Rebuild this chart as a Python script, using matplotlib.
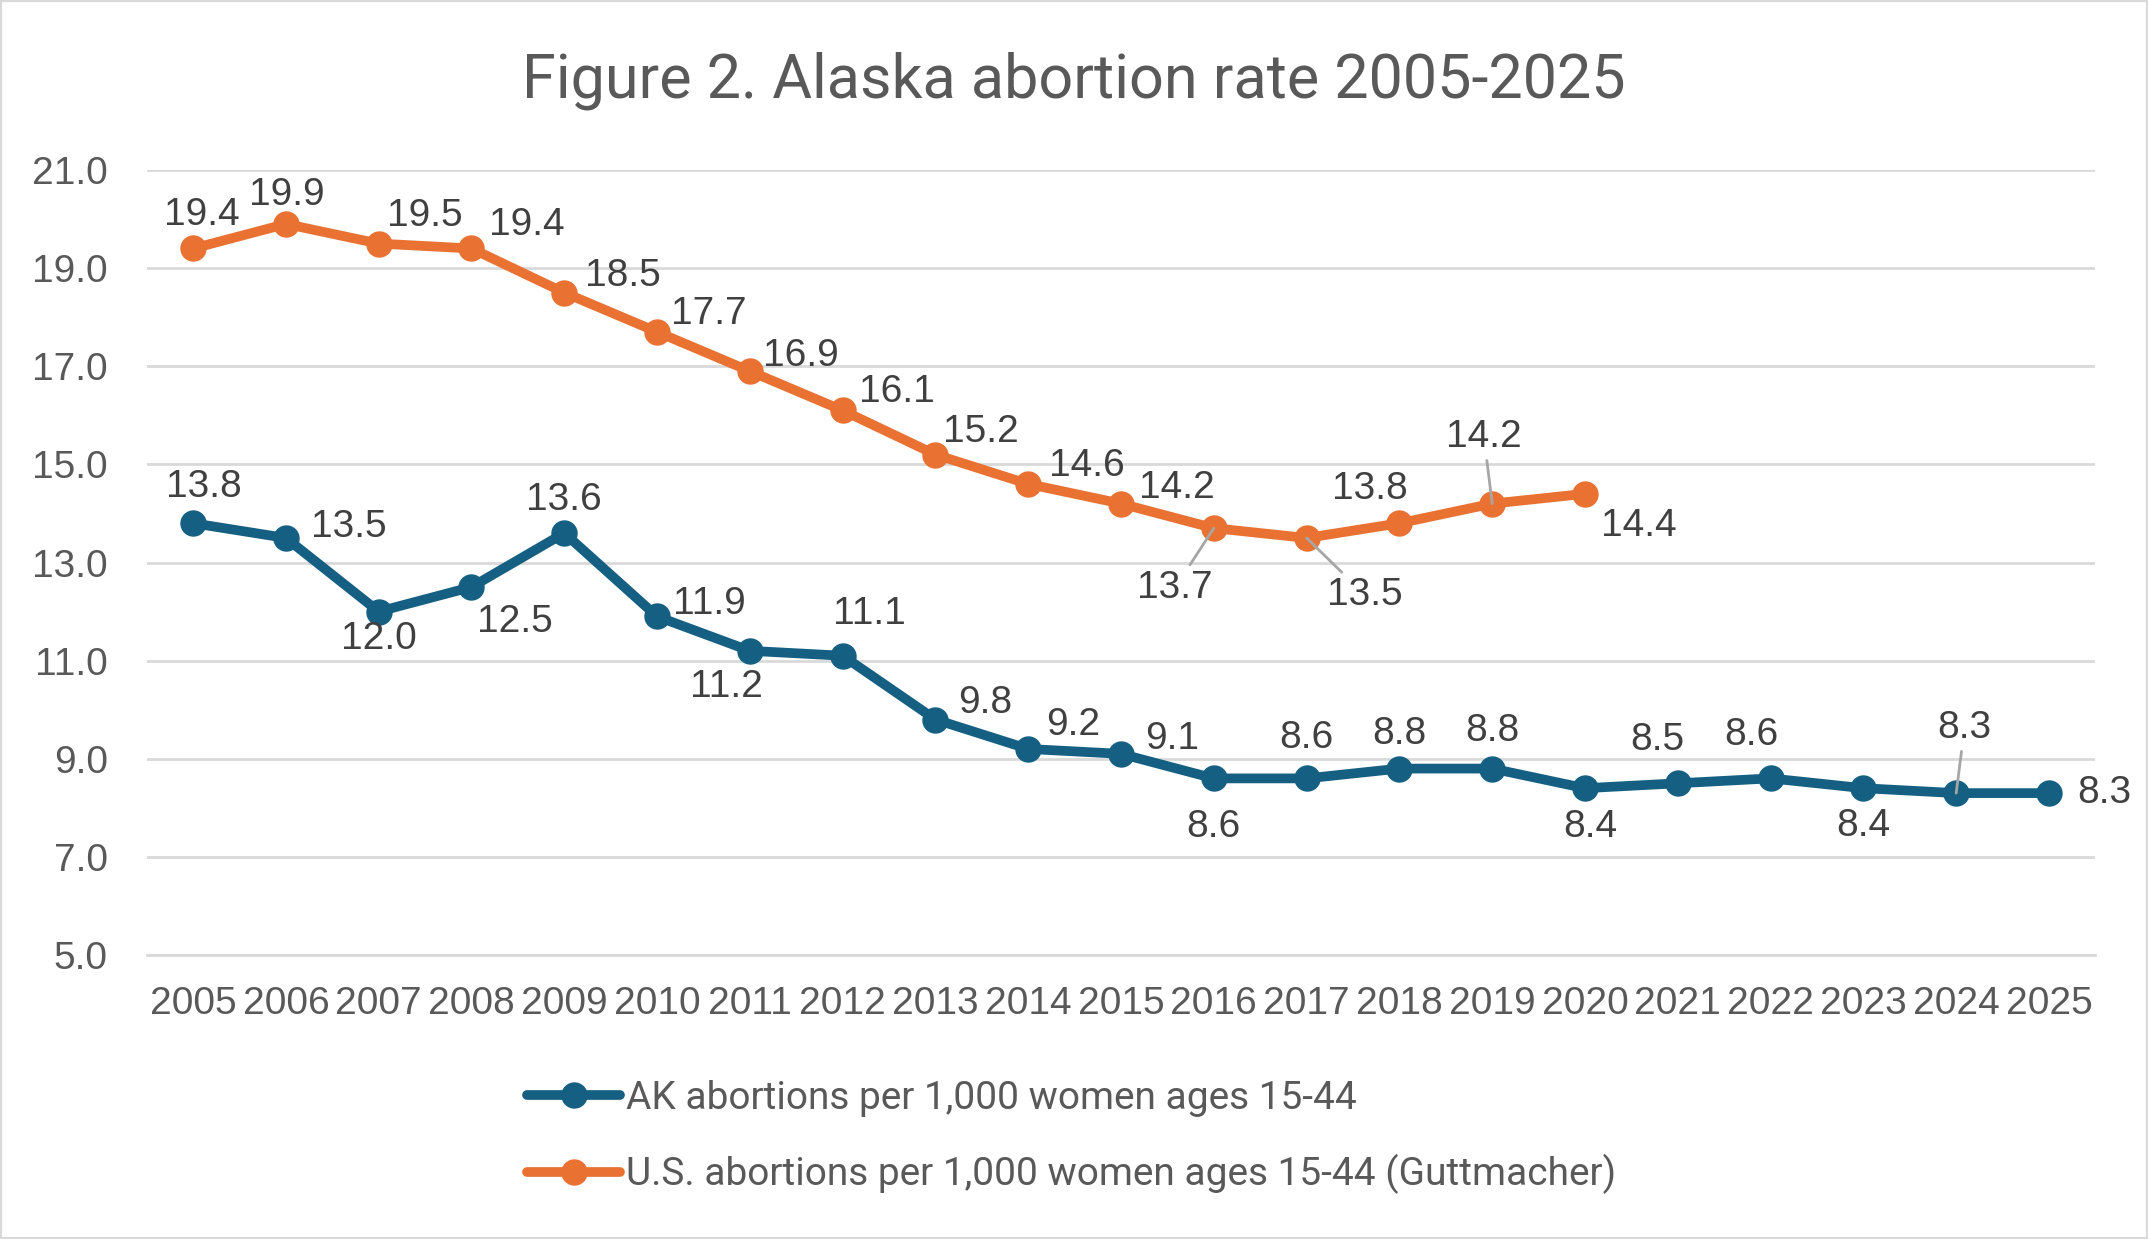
import matplotlib
matplotlib.use("Agg")
import matplotlib.pyplot as plt
from matplotlib.patches import Rectangle

# chart data
years = list(range(2005, 2026))
ak_rate = [13.8, 13.5, 12.0, 12.5, 13.6, 11.9, 11.2, 11.1, 9.8, 9.2, 9.1,
           8.6, 8.6, 8.8, 8.8, 8.4, 8.5, 8.6, 8.4, 8.3, 8.3]
us_years = list(range(2005, 2021))
us_rate = [19.4, 19.9, 19.5, 19.4, 18.5, 17.7, 16.9, 16.1, 15.2, 14.6, 14.2,
           13.7, 13.5, 13.8, 14.2, 14.4]
y_ticks = [5.0, 7.0, 9.0, 11.0, 13.0, 15.0, 17.0, 19.0, 21.0]
ak_label = "AK abortions per 1,000 women ages 15-44"
us_label = "U.S. abortions per 1,000 women ages 15-44 (Guttmacher)"

# label offsets (points) and whether a leader line is drawn
ak_offsets = [(8, 26), (45, 8), (0, -20), (31, -25), (0, 24), (38, 9), (-17, -26),
              (19, 30), (36, 12), (32, 17), (37, 11), (0, -35), (0, 29), (0, 25),
              (0, 27), (4, -28), (-15, 31), (-14, 31), (0, -27), (6, 47), (40, 0)]
us_offsets = [(6, 24), (1, 21), (33, 20), (40, 17), (42, 12), (37, 13), (37, 11),
              (39, 13), (33, 16), (42, 13), (40, 11), (-28, -43), (42, -41),
              (-21, 25), (-6, 48), (39, -23)]
ak_leader = {2024}
us_leader = {2016, 2017, 2019}

blue = "#156082"
orange = "#E97132"
grid_c = "#d9d9d9"
txt_c = "#595959"
lab_c = "#404040"

fig = plt.figure(figsize=(21.48, 12.39), dpi=100)
ax = fig.add_axes([0.0683, 0.2292, 0.9072, 0.6336])

ax.plot(years, ak_rate, color=blue, lw=7, marker="o", markersize=18,
        solid_capstyle="round", label=ak_label, zorder=3)
ax.plot(us_years, us_rate, color=orange, lw=7, marker="o", markersize=18,
        solid_capstyle="round", label=us_label, zorder=3)

def add_labels(xs, ys, offsets, leaders):
    for x, y, off in zip(xs, ys, offsets):
        kw = {}
        if x in leaders:
            kw["arrowprops"] = dict(arrowstyle="-", color="#a6a6a6", lw=2,
                                    shrinkA=2, shrinkB=0)
        ax.annotate(f"{y:.1f}", (x, y), xytext=off, textcoords="offset points",
                    ha="center", va="center", fontsize=28, color=lab_c,
                    family="Liberation Sans", annotation_clip=False, zorder=4, **kw)

add_labels(years, ak_rate, ak_offsets, ak_leader)
add_labels(us_years, us_rate, us_offsets, us_leader)

ax.set_xlim(2004.5, 2025.5)
ax.set_ylim(5, 21)
ax.set_yticks(y_ticks)
ax.set_yticklabels([f"{v:.1f}" for v in y_ticks])
ax.set_xticks(years)
ax.set_xticklabels([str(y) for y in years])
ax.grid(axis="y", color=grid_c, lw=2)
ax.set_axisbelow(True)
for s in ["top", "right", "left"]:
    ax.spines[s].set_visible(False)
ax.spines["bottom"].set_color(grid_c)
ax.spines["bottom"].set_linewidth(2)
ax.tick_params(axis="both", length=0, labelsize=28, labelcolor=txt_c)
ax.tick_params(axis="y", pad=28)
ax.tick_params(axis="x", pad=22)
for t in ax.get_xticklabels() + ax.get_yticklabels():
    t.set_family("Liberation Sans")

fig.text(0.5, 0.935, "Figure 2. Alaska abortion rate 2005-2025", ha="center",
         va="center", fontsize=44, color=txt_c, family="Roboto")

fig.legend(loc="center left", bbox_to_anchor=(0.229, 0.0823), frameon=False,
           handlelength=2.4, handletextpad=0.15, labelspacing=0.95,
           labelcolor=txt_c, prop={"family": "Roboto", "size": 28})

fig.patches.append(Rectangle((0, 0), 1, 1, transform=fig.transFigure, fill=False,
                             edgecolor=grid_c, lw=3))

fig.savefig("out.png", dpi=100)
